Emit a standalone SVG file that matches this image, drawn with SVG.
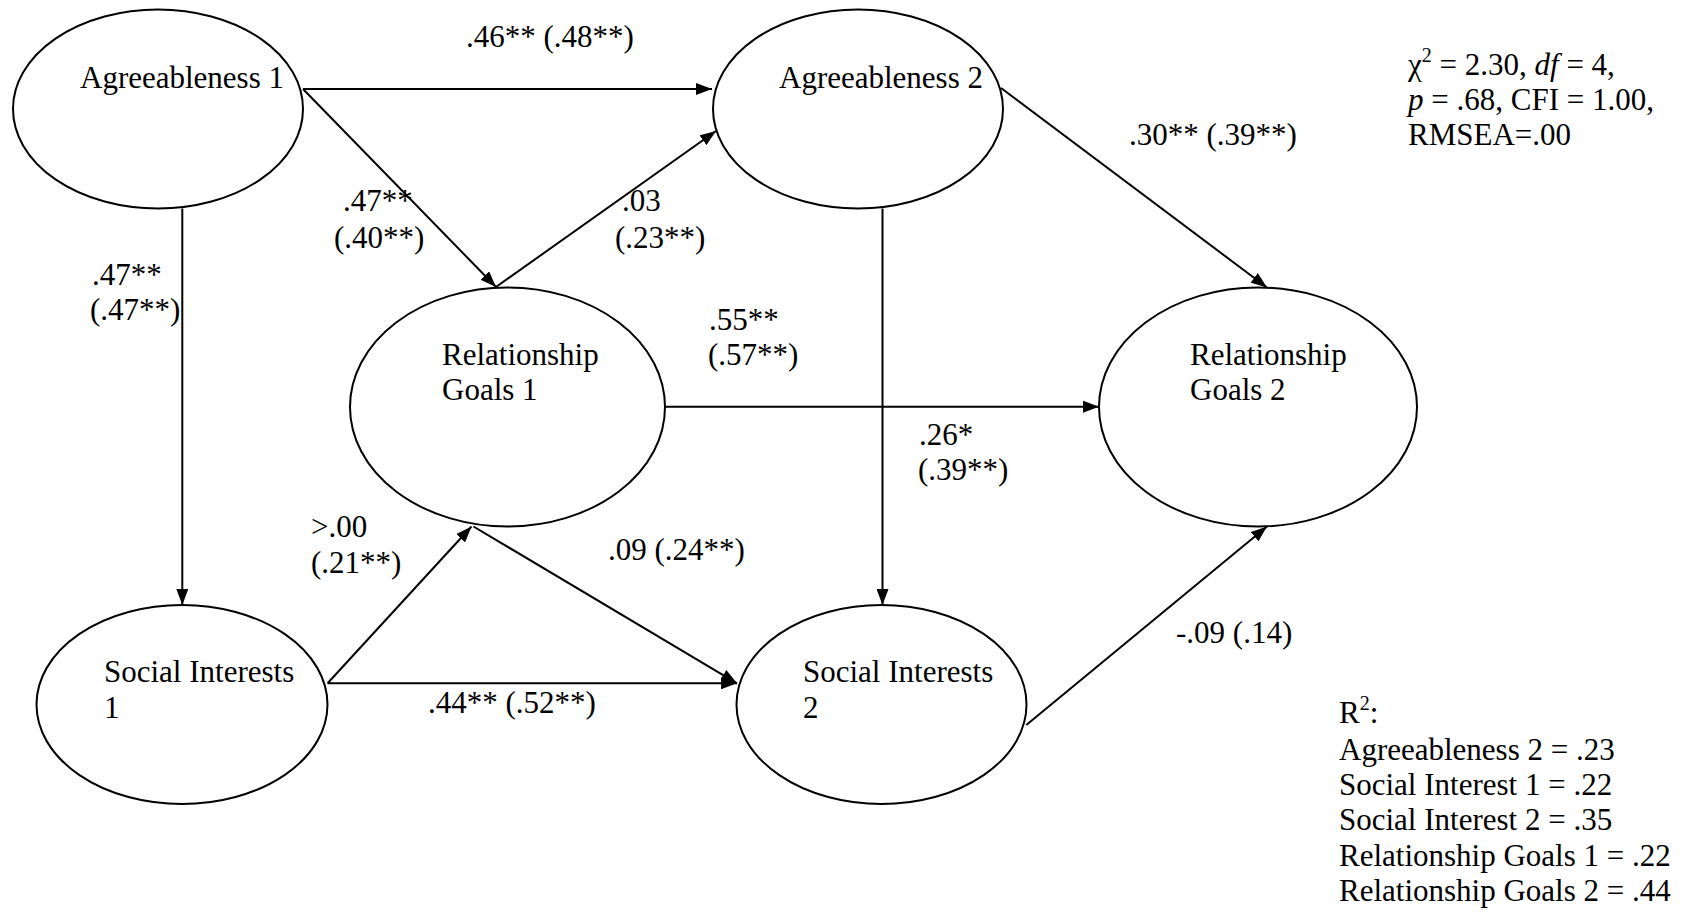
<svg xmlns="http://www.w3.org/2000/svg" width="1686" height="912" viewBox="0 0 1686 912">
  <style>
    text { font-family: "Liberation Serif", "Times New Roman", serif; font-size: 31px; fill: #000; }
    .node ellipse { fill: #fff; stroke: #000; stroke-width: 2; }
    .edge { stroke: #000; stroke-width: 2; fill: none; marker-end: url(#ah); }
    .sup { font-size: 20px; }
  </style>
  <defs>
    <marker id="ah" viewBox="0 0 16 12" refX="16" refY="6" markerWidth="16" markerHeight="12" orient="auto" markerUnits="userSpaceOnUse">
      <path d="M0,0 L16,6 L0,12 z" fill="#000"/>
    </marker>
  </defs>
  <rect width="1686" height="912" fill="#fff"/>

  <!-- paths between constructs -->
  <g id="connectors">
    <line class="edge" x1="303" y1="89" x2="712" y2="89"/>
    <line class="edge" x1="303" y1="89" x2="496" y2="287"/>
    <line class="edge" x1="496" y1="287" x2="716" y2="131"/>
    <line class="edge" x1="182.3" y1="208.5" x2="182.3" y2="605"/>
    <line class="edge" x1="882.5" y1="208.5" x2="882.5" y2="605"/>
    <line class="edge" x1="1001" y1="88" x2="1267" y2="287.5"/>
    <line class="edge" x1="665" y1="406.7" x2="1099" y2="406.7"/>
    <line class="edge" x1="327.6" y1="683.3" x2="471.5" y2="526.5"/>
    <line class="edge" x1="473.5" y1="526.5" x2="737" y2="683.3"/>
    <line class="edge" x1="327.6" y1="683.3" x2="737" y2="683.3"/>
    <line class="edge" x1="1026.3" y1="725" x2="1267" y2="526.5"/>
  </g>

  <g id="agreeableness1" class="node">
    <ellipse cx="158" cy="109" rx="145" ry="99.5"/>
    <text x="80" y="88">Agreeableness 1</text>
  </g>
  <g id="agreeableness2" class="node">
    <ellipse cx="858" cy="109" rx="145" ry="99.5"/>
    <text x="779" y="88">Agreeableness 2</text>
  </g>
  <g id="relationshipGoals1" class="node">
    <ellipse cx="507.5" cy="407" rx="157.5" ry="119.5"/>
    <text x="442" y="365">Relationship</text>
    <text x="442" y="400">Goals 1</text>
  </g>
  <g id="relationshipGoals2" class="node">
    <ellipse cx="1258" cy="407" rx="159" ry="119.5"/>
    <text x="1190" y="365">Relationship</text>
    <text x="1190" y="400">Goals 2</text>
  </g>
  <g id="socialInterests1" class="node">
    <ellipse cx="182" cy="704.5" rx="145.5" ry="99.5"/>
    <text x="104" y="682">Social Interests</text>
    <text x="104" y="718">1</text>
  </g>
  <g id="socialInterests2" class="node">
    <ellipse cx="881.5" cy="704.5" rx="145" ry="99.5"/>
    <text x="803" y="682">Social Interests</text>
    <text x="803" y="718">2</text>
  </g>

  <!-- path coefficients -->
  <g id="coefficients">
    <text x="466" y="47">.46** (.48**)</text>
    <text x="343" y="211">.47**</text>
    <text x="334" y="248">(.40**)</text>
    <text x="622" y="211">.03</text>
    <text x="615" y="248">(.23**)</text>
    <text x="92" y="285">.47**</text>
    <text x="90" y="320">(.47**)</text>
    <text x="1129" y="145">.30** (.39**)</text>
    <text x="709" y="330">.55**</text>
    <text x="708" y="365">(.57**)</text>
    <text x="919" y="445">.26*</text>
    <text x="918" y="480">(.39**)</text>
    <text x="311" y="537">&gt;.00</text>
    <text x="311" y="573">(.21**)</text>
    <text x="608" y="560">.09 (.24**)</text>
    <text x="428" y="713">.44** (.52**)</text>
    <text x="1176" y="643">-.09 (.14)</text>
  </g>

  <!-- model fit -->
  <g id="fit">
    <text x="1408" y="75">χ<tspan class="sup" dy="-13">2</tspan><tspan dy="13"> = 2.30, </tspan><tspan font-style="italic">df</tspan> = 4,</text>
    <text x="1408" y="110"><tspan font-style="italic">p</tspan> = .68, CFI = 1.00,</text>
    <text x="1408" y="145">RMSEA=.00</text>
  </g>

  <!-- explained variance -->
  <g id="rsquared">
    <text x="1339" y="723">R<tspan class="sup" dy="-13">2</tspan><tspan dy="13">:</tspan></text>
    <text x="1339" y="760">Agreeableness 2 = .23</text>
    <text x="1339" y="795">Social Interest 1 = .22</text>
    <text x="1339" y="830">Social Interest 2 = .35</text>
    <text x="1339" y="866">Relationship Goals 1 = .22</text>
    <text x="1339" y="901">Relationship Goals 2 = .44</text>
  </g>
</svg>
